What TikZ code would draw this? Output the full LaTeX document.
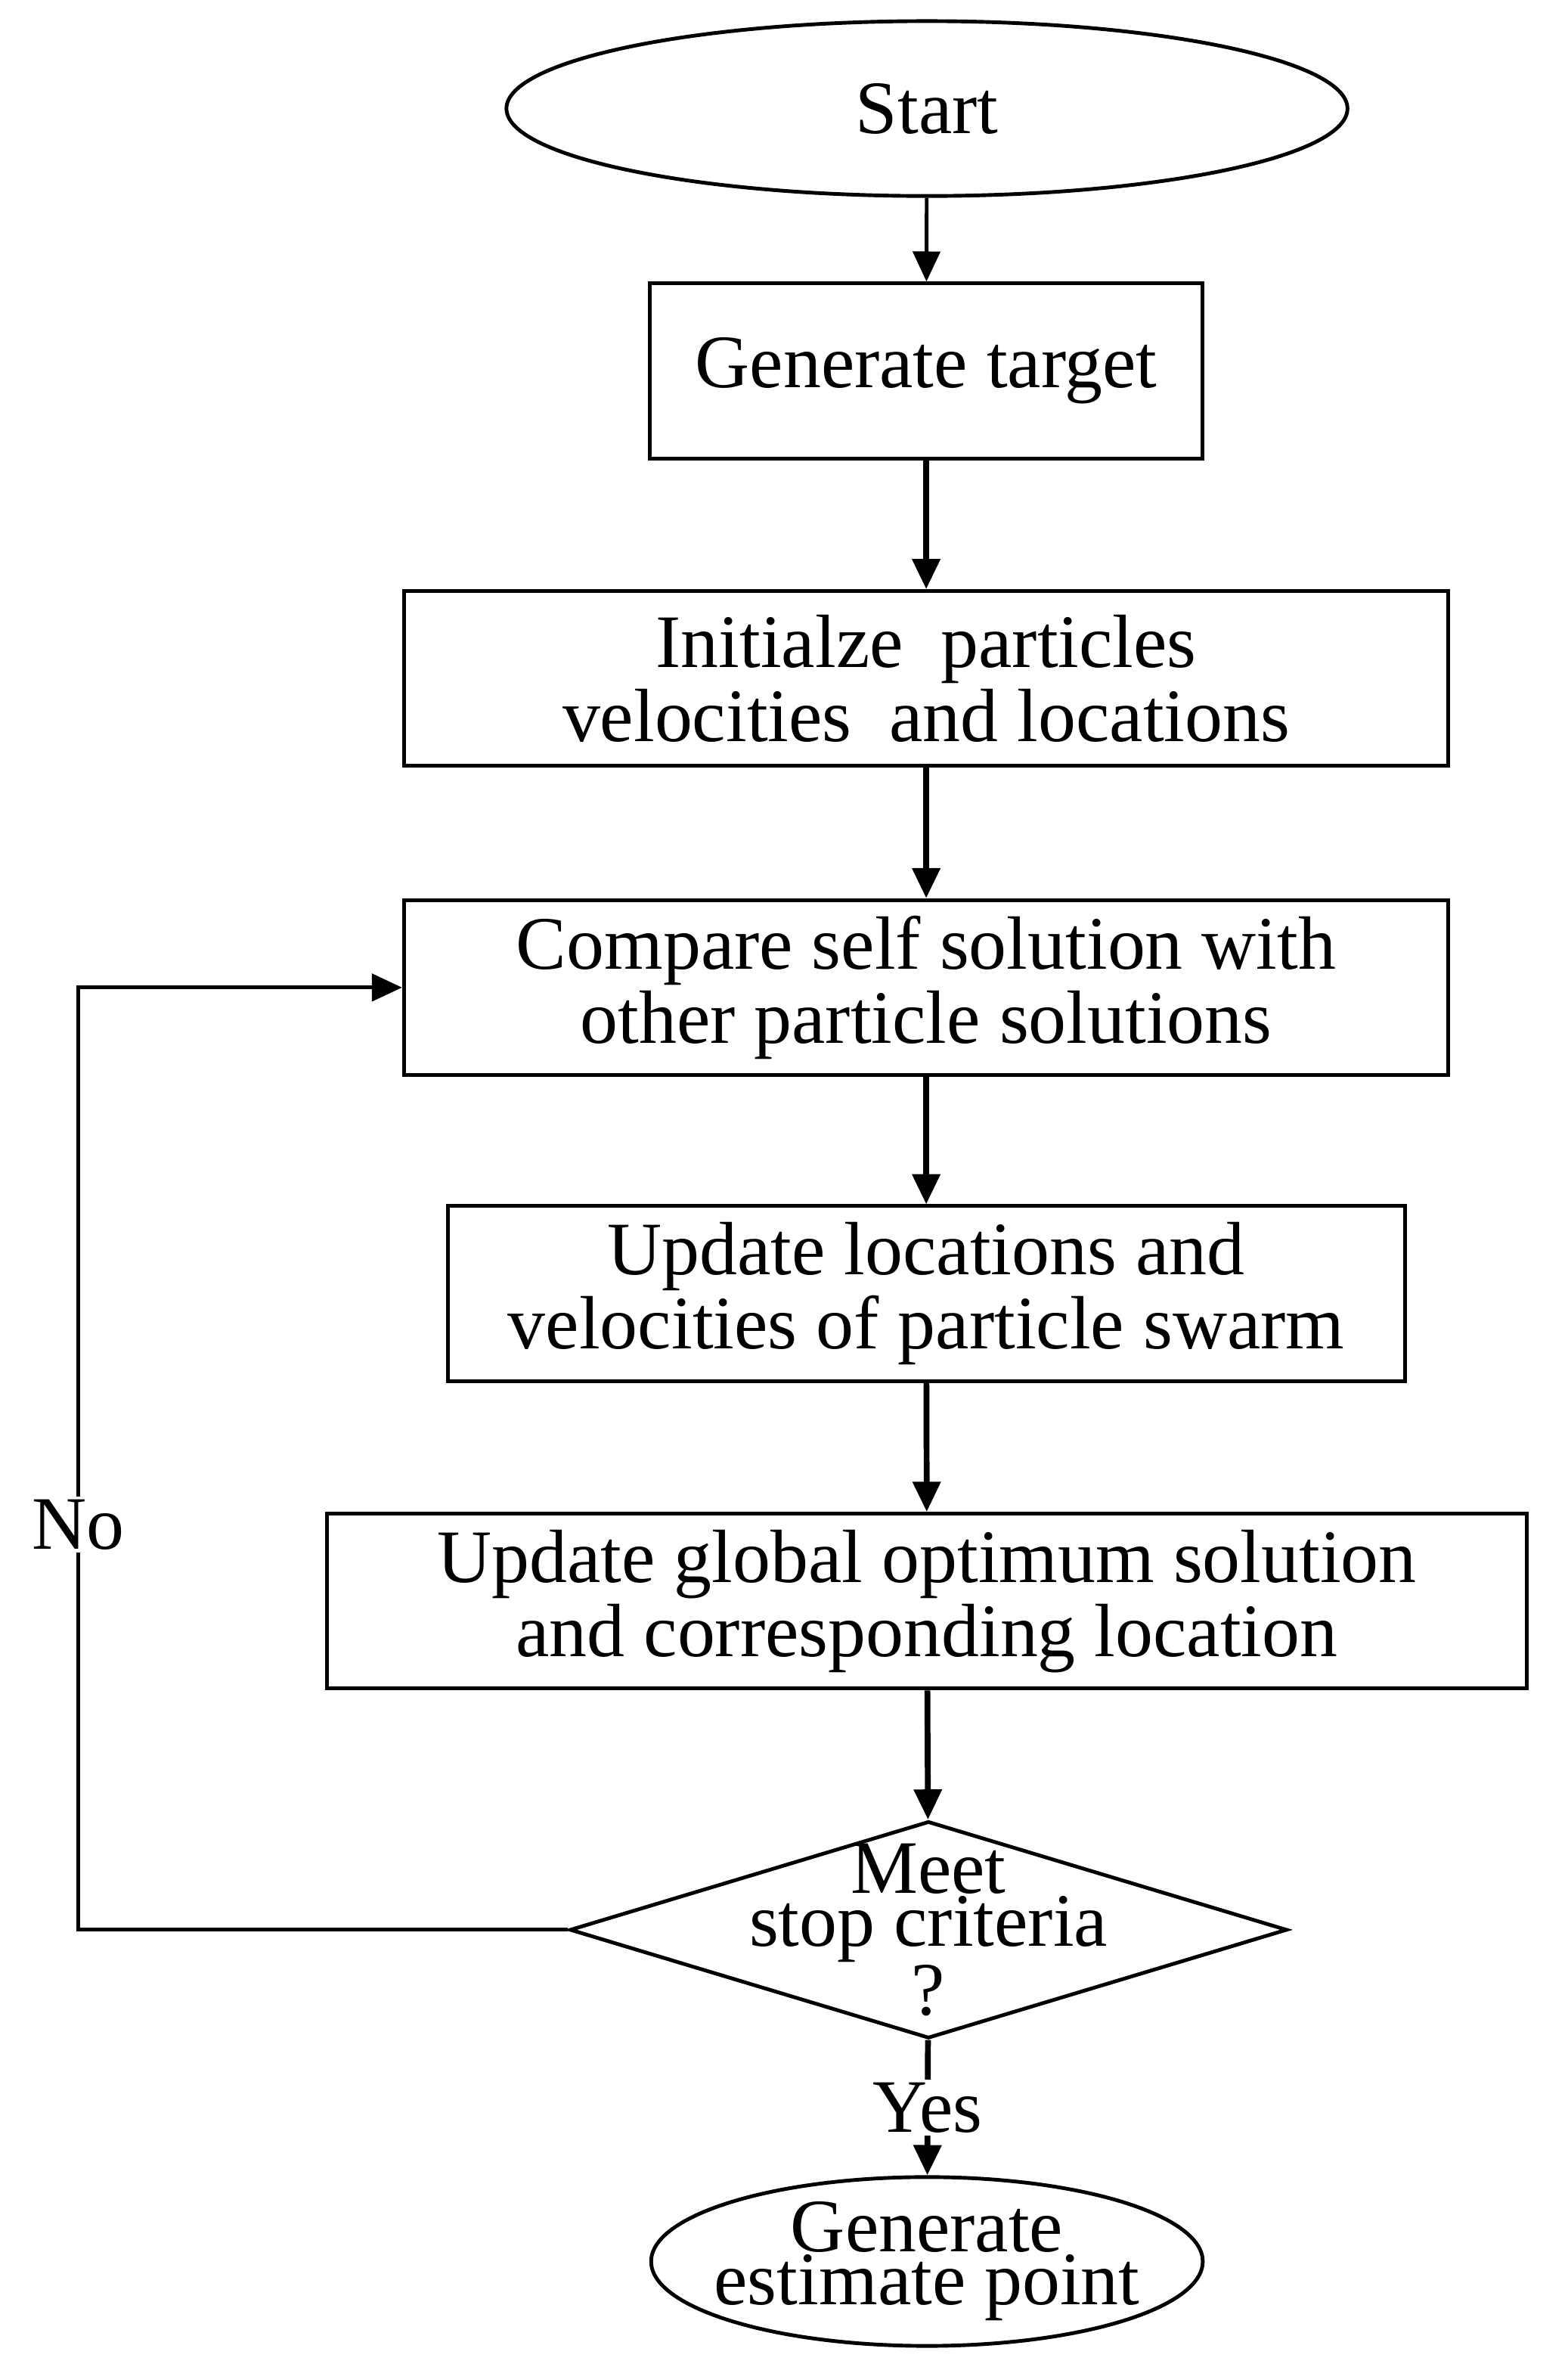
\documentclass[tikz,border=0pt]{standalone}
\usepackage{fontspec}
\setmainfont{Liberation Serif}
\usetikzlibrary{shapes.geometric, arrows.meta, positioning}
\tikzset{
    boxnode/.style = {draw, rectangle, line width=1.4pt, inner sep=0em, minimum height=2.32cm},
    ellipsenode/.style = {draw, ellipse, line width=1.4pt, inner sep=0em},
    diamondnode/.style = {draw, diamond, line width=1.4pt, inner sep=0em, aspect=3.3, minimum width=9.52cm, minimum height=2.88cm},
    textnode/.style = {draw=none, fill=white, inner sep=0.1em},
    connect/.style = {line width=2.2pt, -{Triangle[length=0.4cm, width=0.36cm]}},
    thinconnect/.style = {line width=1.4pt, -{Triangle[length=0.4cm, width=0.36cm]}},
    every text node part/.style={align=center}
}
\begin{document}
\begin{tikzpicture}[font=\fontsize{28.5}{28}\selectfont]
    \useasboundingbox (0,0) rectangle (20.8,-31.4);
    \node[ellipsenode, name=Start, minimum width=11.16cm, minimum height=2.32cm] at (12.3,-1.44) {Start};
    \node[boxnode, name=Target, minimum width=7.34cm] at (12.29,-4.92) {Generate target};
    \node[boxnode, name=Init, minimum width=13.86cm] at (12.29,-9.0) {Initialze\ \ particles\\velocities\ \ and locations};
    \node[boxnode, name=Compare, minimum width=13.86cm] at (12.29,-13.1) {Compare self solution with\\other particle solutions};
    \node[boxnode, name=Update, minimum width=12.7cm] at (12.29,-17.16) {Update locations and\\velocities of particle swarm};
    \node[boxnode, name=Global, minimum width=15.92cm] at (12.3,-21.24) {Update global optimum solution\\and corresponding location};
    \node[diamondnode, name=Stop] at (12.32,-25.6) {};
    \node[textnode, fill=none, font=\fontsize{28.5}{20}\selectfont] at (Stop) {Meet\\stop criteria\\?};
    \node[ellipsenode, name=Finish, minimum width=7.32cm, minimum height=2.24cm, inner sep=-0.75em, font=\fontsize{28.5}{20}\selectfont] at (12.3,-30.0) {Generate\\estimate point};

    \draw[thinconnect] (Start) -- (Target);
    \draw[connect] (Target) -- (Init);
    \draw[connect] (Init) -- (Compare);
    \draw[connect] (Compare) -- (Update);
    \draw[connect] (Update) -- (Global);
    \draw[connect] (Global) -- (Stop);
    \draw[connect] (Stop) -- node[textnode] {Yes} (Finish);
    \draw[thinconnect] (Stop.west) -| (1.04,-13.1) node[textnode, pos=0.715] {No} -- (Compare.west);
\end{tikzpicture}
\end{document}
